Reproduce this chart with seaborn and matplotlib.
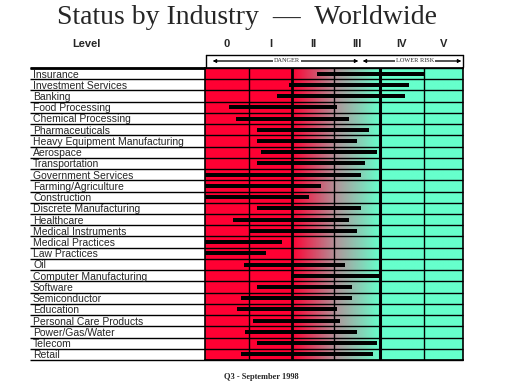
import numpy as np
import pandas as pd
import seaborn as sns
import matplotlib.pyplot as plt
from matplotlib import transforms
from matplotlib.colors import LinearSegmentedColormap
from matplotlib.lines import Line2D

# Data: range of status level per industry (0 = worst, 6 = right edge)
industries = ["Insurance", "Investment Services", "Banking", "Food Processing",
              "Chemical Processing", "Pharmaceuticals", "Heavy Equipment Manufacturing",
              "Aerospace", "Transportation", "Government Services", "Farming/Agriculture",
              "Construction", "Discrete Manufacturing", "Healthcare", "Medical Instruments",
              "Medical Practices", "Law Practices", "Oil", "Computer Manufacturing",
              "Software", "Semiconductor", "Education", "Personal Care Products",
              "Power/Gas/Water", "Telecom", "Retail"]
range_start = [2.60, 1.95, 1.67, 0.56, 0.72, 1.21, 1.21, 1.30, 1.21, 0.00, 0.00, 0.00, 1.21,
               0.65, 1.03, 0.00, 0.00, 0.91, 2.00, 1.21, 0.84, 0.74, 1.12, 0.93, 1.21, 0.84]
range_end = [5.09, 4.74, 4.64, 3.06, 3.34, 3.81, 3.53, 3.99, 3.71, 3.63, 2.69, 2.41, 3.63,
             3.34, 3.53, 1.79, 1.41, 3.25, 4.11, 3.42, 3.43, 3.06, 3.13, 3.53, 3.99, 3.90]
levels = ["0", "I", "II", "III", "IV", "V"]
level_edges = [0, 1.02, 2.02, 3.0, 4.07, 5.09, 6.0]

df = pd.DataFrame({"Industry": industries, "start": range_start, "end": range_end})
df["span"] = df["end"] - df["start"]
n = len(df)

sns.set_style("white")
plt.rcParams["font.family"] = ["Liberation Sans", "DejaVu Sans"]

fig = plt.figure(figsize=(5.14, 3.82), dpi=100)
ax = fig.add_axes([205 / 514, 1 - 360 / 382, 258 / 514, 292 / 382])

# red -> grey -> green background gradient
cmap = LinearSegmentedColormap.from_list("risk", ["#ff0033", "#b0949a", "#66ffcc"])
xs = np.linspace(0, 6, 600)
grad = np.clip((xs - 2.02) / 2.05, 0, 1)[None, :]
ax.imshow(grad, extent=[0, 6, n - 0.5, -0.5], aspect="auto", cmap=cmap, zorder=0)

sns.barplot(data=df, x="span", y="Industry", left=df["start"], color="black",
            width=0.36, errorbar=None, ax=ax, zorder=3, edgecolor="black", linewidth=0)

ax.set_xlim(0, 6)
ax.set_ylim(n - 0.5, -0.5)
ax.set_xticks([])
ax.set_yticks([])
ax.set_xlabel("")
ax.set_ylabel("")
for s in ax.spines.values():
    s.set_color("black")
    s.set_linewidth(1.2)

# column separators
ax.vlines(level_edges[1:-1], -0.5, n - 0.5, colors="black",
          linewidths=[1, 2, 1, 2.2, 1], zorder=2)
# row lines, extended into label area
x_left = (30 - 205) / 43
ax.hlines(np.arange(n + 1) - 0.5, x_left, 6, colors="black", linewidth=1,
          clip_on=False, zorder=2)
ax.hlines([-0.5], x_left, 0, colors="black", linewidth=2, clip_on=False)

# industry labels
tr = transforms.blended_transform_factory(fig.transFigure, ax.transData)
for i, name in enumerate(industries):
    ax.text(33 / 514, i + 0.08, name, transform=tr, fontsize=7.5, va="center", ha="left")

# header
fig.text(86 / 514, 1 - 44 / 382, "Level", fontsize=8, fontweight="bold", ha="center", va="center")
for j, lab in enumerate(levels):
    cx = (level_edges[j] + level_edges[j + 1]) / 2
    fx = (205 + cx * 43) / 514
    fig.text(fx, 1 - 44 / 382, lab, fontsize=8, fontweight="bold", ha="center", va="center")

# DANGER / LOWER RISK box
bx0, bx1, by0, by1 = 206 / 514, 463 / 514, 1 - 67 / 382, 1 - 55 / 382
for xa, ya in [((bx0, bx0), (by0, by1)), ((bx1, bx1), (by0, by1)), ((bx0, bx1), (by1, by1))]:
    fig.add_artist(Line2D(xa, ya, color="black", lw=1))
ay = 1 - 61 / 382
arr = dict(arrowstyle="<|-|>", color="black", lw=0.6, mutation_scale=5, shrinkA=0, shrinkB=0)
fig.add_artist(plt.annotate("", xy=(213 / 514, ay), xytext=(358 / 514, ay),
                            xycoords="figure fraction", arrowprops=arr))
fig.add_artist(plt.annotate("", xy=(363 / 514, ay), xytext=(461 / 514, ay),
                            xycoords="figure fraction", arrowprops=arr))
for tx, t in [(287, "DANGER"), (415, "LOWER RISK")]:
    fig.text(tx / 514, ay, t, fontsize=4.5, family="Liberation Serif", ha="center", va="center",
             bbox=dict(facecolor="white", edgecolor="none", pad=0.5))

fig.text(0.5 - 10 / 514, 1 - 17 / 382, "Status by Industry  \u2014  Worldwide", fontsize=20,
         family="Liberation Serif", ha="center", va="center")
fig.text(261 / 514, 1 - 377 / 382, "Q3 - September 1998", fontsize=6, fontweight="bold",
         family="Liberation Serif", ha="center", va="center")

fig.savefig("out.png", dpi=100)
